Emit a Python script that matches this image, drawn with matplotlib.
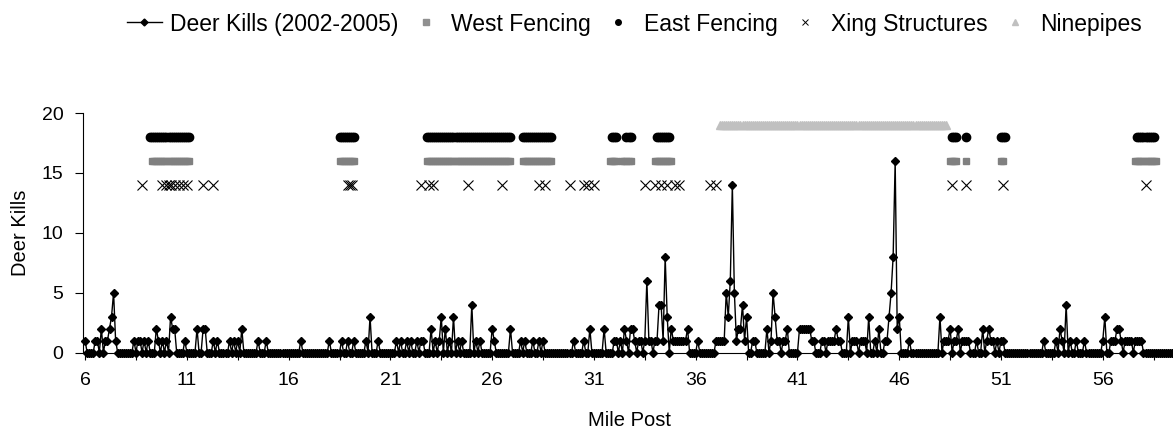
import numpy as np
import matplotlib
matplotlib.use("Agg")
from matplotlib import pyplot as plt
from matplotlib.lines import Line2D

plt.rcParams['font.family'] = ['Liberation Sans', 'DejaVu Sans']

# deer kills per 0.1 mile, one row per mile post (6.0 .. 59.4)
kills_by_mile = [
    [1, 0, 0, 0, 0, 1, 1, 0, 2, 0],   # 6
    [1, 1, 2, 3, 5, 1, 0, 0, 0, 0],   # 7
    [0, 0, 0, 0, 1, 0, 1, 1, 0, 1],   # 8
    [0, 1, 0, 0, 0, 2, 1, 0, 1, 0],   # 9
    [1, 0, 3, 2, 2, 0, 0, 0, 0, 1],   # 10
    [0, 0, 0, 0, 0, 2, 0, 0, 2, 2],   # 11
    [0, 0, 0, 1, 0, 1, 0, 0, 0, 0],   # 12
    [0, 1, 0, 1, 0, 1, 0, 2, 0, 0],   # 13
    [0, 0, 0, 0, 0, 1, 0, 0, 0, 1],   # 14
    [0, 0, 0, 0, 0, 0, 0, 0, 0, 0],   # 15
    [0, 0, 0, 0, 0, 0, 1, 0, 0, 0],   # 16
    [0, 0, 0, 0, 0, 0, 0, 0, 0, 0],   # 17
    [1, 0, 0, 0, 0, 0, 1, 0, 0, 1],   # 18
    [0, 0, 1, 0, 0, 0, 0, 0, 1, 0],   # 19
    [3, 0, 0, 0, 1, 0, 0, 0, 0, 0],   # 20
    [0, 0, 0, 1, 0, 1, 0, 0, 1, 0],   # 21
    [1, 0, 0, 1, 0, 1, 1, 0, 0, 0],   # 22
    [2, 0, 1, 0, 1, 3, 0, 2, 0, 1],   # 23
    [0, 3, 0, 1, 0, 1, 0, 0, 0, 0],   # 24
    [4, 0, 1, 0, 1, 0, 0, 0, 0, 0],   # 25
    [2, 1, 0, 0, 0, 0, 0, 0, 0, 2],   # 26
    [0, 0, 0, 0, 1, 0, 1, 0, 0, 0],   # 27
    [1, 0, 0, 1, 0, 1, 0, 0, 0, 0],   # 28
    [0, 0, 0, 0, 0, 0, 0, 0, 0, 0],   # 29
    [1, 0, 0, 0, 0, 1, 0, 0, 2, 0],   # 30
    [0, 0, 0, 0, 0, 2, 0, 0, 0, 0],   # 31
    [1, 1, 0, 1, 0, 2, 1, 0, 2, 2],   # 32
    [1, 0, 1, 1, 0, 1, 6, 1, 1, 0],   # 33
    [1, 1, 4, 4, 1, 8, 3, 0, 2, 1],   # 34
    [1, 1, 1, 1, 1, 1, 2, 0, 0, 0],   # 35
    [0, 1, 0, 0, 0, 0, 0, 0, 0, 0],   # 36
    [1, 1, 1, 1, 1, 5, 3, 6, 14, 5],  # 37
    [1, 2, 2, 4, 1, 3, 0, 0, 1, 1],   # 38
    [0, 0, 0, 0, 0, 2, 0, 1, 5, 3],   # 39
    [1, 1, 0, 1, 1, 2, 0, 0, 0, 0],   # 40
    [0, 2, 2, 2, 2, 2, 2, 1, 1, 0],   # 41
    [0, 0, 1, 1, 0, 1, 1, 1, 1, 2],   # 42
    [1, 1, 0, 0, 0, 3, 0, 1, 1, 1],   # 43
    [0, 1, 1, 1, 0, 3, 0, 0, 1, 0],   # 44
    [2, 0, 0, 1, 1, 3, 5, 8, 16, 2],  # 45
    [3, 0, 0, 0, 0, 1, 0, 0, 0, 0],   # 46
    [0, 0, 0, 0, 0, 0, 0, 0, 0, 0],   # 47
    [3, 0, 1, 1, 1, 2, 0, 1, 1, 2],   # 48
    [0, 1, 1, 1, 1, 0, 0, 0, 1, 0],   # 49
    [0, 2, 0, 1, 2, 1, 1, 0, 1, 0],   # 50
    [1, 1, 0, 0, 0, 0, 0, 0, 0, 0],   # 51
    [0, 0, 0, 0, 0, 0, 0, 0, 0, 0],   # 52
    [0, 1, 0, 0, 0, 0, 0, 1, 0, 2],   # 53
    [1, 0, 4, 0, 1, 0, 0, 1, 0, 0],   # 54
    [0, 1, 0, 0, 0, 0, 0, 0, 0, 0],   # 55
    [1, 3, 0, 0, 1, 1, 1, 2, 2, 1],   # 56
    [0, 1, 1, 1, 1, 0, 1, 1, 1, 1],   # 57
    [0, 0, 0, 0, 0, 0, 0, 0, 0, 0],   # 58
    [0, 0, 0, 0, 0],                  # 59
]
first_mile = 6

# fenced / structure segments (start, end mile post)
west_fencing = [(9.3, 11.1), (18.5, 19.2), (22.8, 26.9), (27.5, 28.9), (31.8, 32.1),
                (32.4, 32.8), (34.0, 34.8), (48.5, 48.8), (49.3, 49.3), (51.0, 51.1),
                (57.6, 58.6)]
east_fencing = [(9.2, 11.1), (18.5, 19.2), (22.8, 26.9), (27.5, 28.9), (31.9, 32.1),
                (32.6, 32.8), (34.1, 34.7), (48.6, 48.8), (49.3, 49.3), (51.0, 51.2),
                (57.7, 58.5)]
ninepipes = [(37.2, 48.3)]
xing_miles = [8.8, 9.8, 10.0, 10.1, 10.2, 10.4, 10.6, 10.8, 11.0, 11.8, 12.3,
              18.9, 19.0, 19.1, 22.5, 22.9, 23.1, 24.8, 26.5, 28.3, 28.6, 29.8,
              30.5, 30.7, 31.0, 33.5, 34.0, 34.3, 34.6, 35.0, 35.2, 36.7, 37.0,
              48.6, 49.3, 51.1, 58.1]

WEST_Y, EAST_Y, XING_Y, NINE_Y = 16, 18, 14, 19


def expand(segments):
    pts = []
    for a, b in segments:
        n = int(round((b - a) * 10)) + 1
        pts.extend(np.round(a + 0.1 * np.arange(n), 1))
    return np.array(pts)


kills = np.array([v for row in kills_by_mile for v in row])
miles = first_mile + 0.1 * np.arange(len(kills))

fig = plt.figure(figsize=(11.73, 4.32), dpi=100)
ax = fig.add_axes([0.0708, 0.184, 0.9292, 0.5544])

ax.plot(miles, kills, color='black', lw=1, marker='D', ms=4, clip_on=False, zorder=3)

wp = expand(west_fencing)
ax.plot(wp, np.full(len(wp), WEST_Y), ls='none', marker='s', ms=5, color='#808080', mec='#808080')
ep = expand(east_fencing)
ax.plot(ep, np.full(len(ep), EAST_Y), ls='none', marker='o', ms=6, color='black')
npts = expand(ninepipes)
ax.plot(npts, np.full(len(npts), NINE_Y), ls='none', marker='^', ms=6, color='#c0c0c0', mec='#c0c0c0')
ax.plot(xing_miles, np.full(len(xing_miles), XING_Y), ls='none', marker='x', ms=7, mew=0.8, color='black')

ax.set_xlim(5.9, 59.45)
ax.set_ylim(0, 20)
ax.set_yticks([0, 5, 10, 15, 20])
ax.set_xticks(np.arange(6, 59, 2.5))
ax.set_xticklabels([str(int(t)) if (t - 6) % 5 == 0 else '' for t in np.arange(6, 59, 2.5)])
ax.tick_params(axis='x', direction='out', length=5, width=0.8, pad=9, labelsize=14)
ax.tick_params(axis='y', direction='out', length=6, width=0.8, pad=8, labelsize=14)
for s in ['top', 'right']:
    ax.spines[s].set_visible(False)
for s in ['left', 'bottom']:
    ax.spines[s].set_linewidth(0.8)

fig.text(630 / 1173, 1 - 420 / 432, 'Mile Post', ha='center', va='center', fontsize=14.5)
fig.text(21 / 1173, 1 - 233 / 432, 'Deer Kills', ha='center', va='center', rotation=90, fontsize=14.5)

handles = [
    Line2D([], [], color='black', lw=1, marker='D', ms=3.5),
    Line2D([], [], ls='none', marker='s', ms=4, color='#909090'),
    Line2D([], [], ls='none', marker='o', ms=4, color='black'),
    Line2D([], [], ls='none', marker='x', ms=5, mew=0.7, color='black'),
    Line2D([], [], ls='none', marker='^', ms=4, color='#c0c0c0'),
]
labels = ['Deer Kills (2002-2005)', 'West Fencing', 'East Fencing', 'Xing Structures', 'Ninepipes']
fig.legend(handles, labels, loc='center', bbox_to_anchor=(0.541, 1 - 24 / 432), ncol=5,
           frameon=False, fontsize=16.5, handlelength=1.5, handletextpad=0.36,
           columnspacing=0.45, borderpad=0, borderaxespad=0)

fig.savefig('out.png', dpi=100)
